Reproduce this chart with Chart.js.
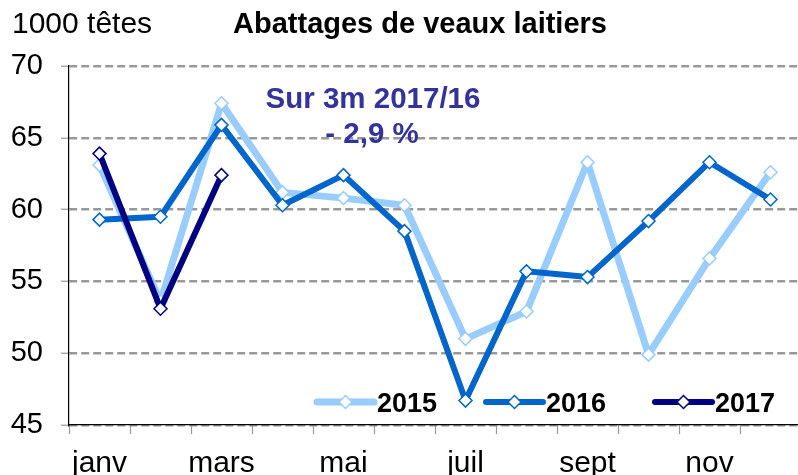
<!DOCTYPE html>
<html>
<head>
<meta charset="utf-8">
<script src="https://cdn.jsdelivr.net/npm/chart.js@4"></script>
<style>
  html, body { margin: 0; padding: 0; background: #fff; overflow: hidden; }
</style>
</head>
<body>
<canvas id="veaux_chart" width="801" height="475"></canvas>
<script>
const months = ["janv", "févr", "mars", "avr", "mai", "juin", "juil", "août", "sept", "oct", "nov", "déc"];
const values_2015 = [63.1, 53.6, 67.4, 61.2, 60.8, 60.3, 51.0, 52.9, 63.3, 49.9, 56.6, 62.6];
const values_2016 = [59.3, 59.5, 65.9, 60.3, 62.4, 58.5, 46.7, 55.7, 55.3, 59.2, 63.3, 60.7];
const values_2017 = [63.9, 53.1, 62.4];
const years = ["2015", "2016", "2017"];
const y_ticks = [45, 50, 55, 60, 65, 70];

const FONT = "'Liberation Sans', Arial, sans-serif";

function diamond(ctx, x, y, r, color) {
  ctx.beginPath();
  ctx.moveTo(x, y - r);
  ctx.lineTo(x + r, y);
  ctx.lineTo(x, y + r);
  ctx.lineTo(x - r, y);
  ctx.closePath();
  ctx.fillStyle = "#fff";
  ctx.fill();
  ctx.lineWidth = 1.5;
  ctx.strokeStyle = color;
  ctx.stroke();
}

// titles, annotation and legend drawn over the chart
const overlay = {
  id: "overlay",
  afterDraw(chart) {
    const ctx = chart.ctx;
    ctx.save();
    ctx.fillStyle = "#000";
    ctx.textBaseline = "alphabetic";
    ctx.font = "30px " + FONT;
    ctx.textAlign = "left";
    ctx.fillText("1000 têtes", 12, 33);
    ctx.font = "bold 29px " + FONT;
    ctx.textAlign = "center";
    ctx.fillText("Abattages de veaux laitiers", 420, 33);

    ctx.fillStyle = "#333399";
    ctx.font = "bold 29.5px " + FONT;
    ctx.fillText("Sur 3m 2017/16", 373, 108);
    ctx.fillText("- 2,9 %", 372, 143);

    const legend_x = [317, 486, 655];
    chart.data.datasets.forEach((ds, i) => {
      const x1 = legend_x[i], x2 = x1 + 57, y = 402;
      ctx.beginPath();
      ctx.moveTo(x1, y);
      ctx.lineTo(x2, y);
      ctx.lineWidth = ds.borderWidth;
      ctx.lineCap = "round";
      ctx.strokeStyle = ds.borderColor;
      ctx.stroke();
      diamond(ctx, (x1 + x2) / 2, y, 6.5, ds.pointBorderColor);
      ctx.fillStyle = "#000";
      ctx.font = "bold 27px " + FONT;
      ctx.textAlign = "left";
      ctx.fillText(ds.label, x2 + 3, 412);
    });
    ctx.restore();
  }
};

function series(label, data, color, width, order) {
  return {
    label: label,
    data: data,
    borderColor: color,
    borderWidth: width,
    borderJoinStyle: "round",
    borderCapStyle: "round",
    pointStyle: "rectRot",
    pointRadius: 6.5,
    pointHoverRadius: 6.5,
    pointBackgroundColor: "#fff",
    pointBorderColor: color,
    pointBorderWidth: 1.5,
    tension: 0,
    fill: false,
    clip: false,
    order: order
  };
}

const veaux_chart = new Chart("veaux_chart", {
  type: "line",
  data: {
    labels: months,
    datasets: [
      series(years[0], values_2015, "#99CCFF", 7, 3),
      series(years[1], values_2016, "#0066CC", 6, 2),
      series(years[2], values_2017, "#000080", 6, 1)
    ]
  },
  plugins: [overlay],
  options: {
    responsive: false,
    animation: false,
    events: [],
    layout: { autoPadding: false, padding: { top: 66, left: 0, right: 0, bottom: 0 } },
    plugins: {
      legend: { display: false },
      title: { display: false },
      tooltip: { enabled: false }
    },
    scales: {
      x: {
        offset: true,
        grid: {
          offset: true,
          drawOnChartArea: false,
          drawTicks: true,
          tickLength: 9,
          tickColor: "#999999",
          tickWidth: 1.2
        },
        border: { color: "#000", width: 1.2 },
        ticks: {
          autoSkip: false,
          maxRotation: 0,
          padding: 12,
          color: "#000",
          font: { family: FONT, size: 30 },
          callback: (v, i) => (i % 2 === 0 ? months[i] : "")
        },
        afterFit: (scale) => {
          scale.height = 50;
          scale.paddingLeft = 0;
          scale.paddingRight = 0;
        }
      },
      y: {
        min: 45,
        max: 70,
        afterBuildTicks: (scale) => { scale.ticks = y_ticks.map(v => ({ value: v })); },
        grid: {
          color: "#999999",
          lineWidth: 2.5,
          tickLength: 8,
          tickColor: "#999999",
          tickWidth: 1.2,
          tickBorderDash: []
        },
        border: { color: "#000", width: 1.2, dash: [8, 4] },
        ticks: {
          padding: 18,
          color: "#000",
          font: { family: FONT, size: 29 }
        },
        afterFit: (scale) => { scale.width = 69; }
      }
    }
  }
});
</script>
</body>
</html>
